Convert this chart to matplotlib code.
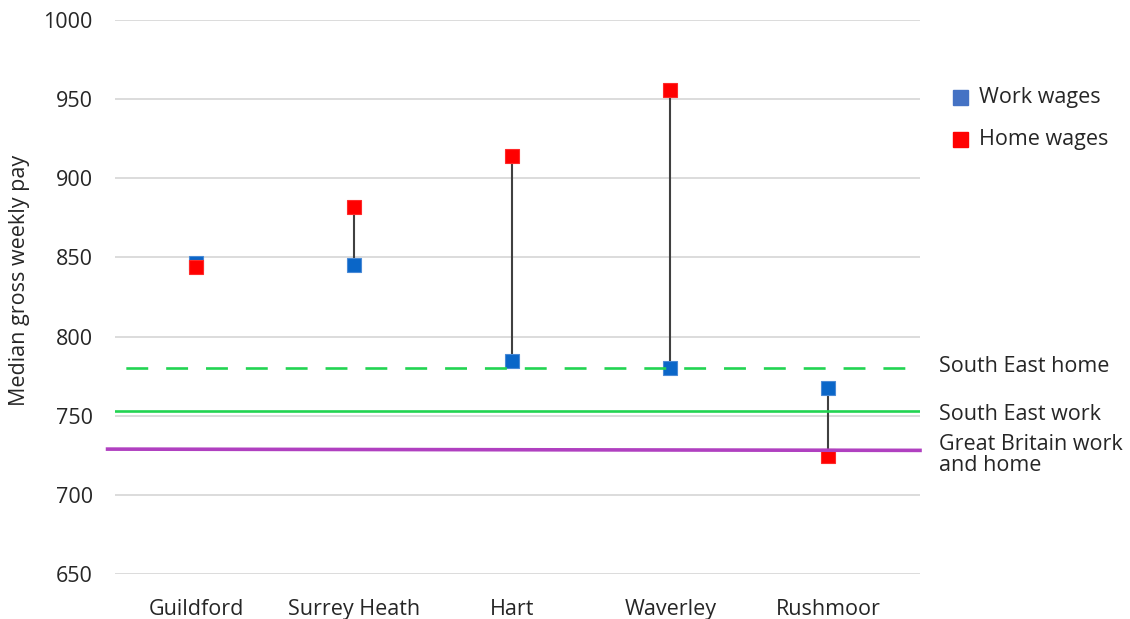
import matplotlib
matplotlib.use('Agg')
import matplotlib.pyplot as plt

# data
areas = ['Guildford', 'Surrey Heath', 'Hart', 'Waverley', 'Rushmoor']
work_wages = [846.5, 845, 784.5, 780, 767.5]
home_wages = [844, 882, 914, 956, 724.5]

se_home = 780
se_work = 753
gb_both = 728.5

yticks = [650, 700, 750, 800, 850, 900, 950, 1000]

plt.rcParams['font.family'] = ['Open Sans', 'DejaVu Sans']
FS = 15.5
TXT = '#262626'

fig = plt.figure(figsize=(11.3, 6.19), dpi=100)
ax = fig.add_axes([115 / 1130, 1 - 574 / 619, 805 / 1130, 554 / 619])

xs = list(range(len(areas)))

# grid
for t in yticks:
    ax.axhline(t, color='#d9d9d9', lw=1.3, zorder=0)

# connectors between work and home
for x, w, h in zip(xs, work_wages, home_wages):
    ax.plot([x, x], [w, h], color='#404040', lw=1.5, zorder=2)

ax.plot(xs, work_wages, ls='none', marker='s', ms=10.5, color='#0a66c8',
        mec='#4a8ad6', mew=0.8, zorder=3)
ax.plot(xs, home_wages, ls='none', marker='s', ms=10.5, color='#ff0000',
        mec='#ff2a2a', mew=0.8, zorder=4)

# reference lines
ax.axhline(se_home, color='#22d452', lw=1.9, ls=(11.0, (8.3, 6.8)), zorder=5)
ax.axhline(se_work, color='#22d452', lw=1.9, zorder=5)
ax.plot([-0.56, 4.58], [gb_both + 0.4, gb_both - 0.4], color='#b040c0', lw=2.6,
        zorder=5, clip_on=False)

ax.set_xlim(-0.513, 4.58)
ax.set_ylim(650, 1000)
ax.set_yticks(yticks)
ax.set_xticks(xs)
ax.set_xticklabels(areas)
ax.tick_params(axis='both', length=0, labelsize=FS, colors=TXT)
ax.tick_params(axis='y', pad=16)
ax.tick_params(axis='x', pad=18)
for s in ax.spines.values():
    s.set_visible(False)

fig.text(20 / 1130, 1 - 280 / 619, 'Median gross weekly pay', rotation=90,
         ha='center', va='center', fontsize=FS, color=TXT)

# right side labels
fig.text(939 / 1130, 1 - 367 / 619, 'South East home', fontsize=FS,
         va='center', color=TXT)
fig.text(939 / 1130, 1 - 415 / 619, 'South East work', fontsize=FS,
         va='center', color=TXT)
fig.text(939 / 1130, 1 - 455 / 619, 'Great Britain work\nand home', fontsize=FS,
         va='center', color=TXT, linespacing=0.95)

# legend
fig.patches.append(plt.Rectangle((953 / 1130, 1 - 105 / 619), 15 / 1130, 15 / 619,
                                 transform=fig.transFigure, color='#4472c4'))
fig.patches.append(plt.Rectangle((953 / 1130, 1 - 147 / 619), 15 / 1130, 15 / 619,
                                 transform=fig.transFigure, color='#ff0000'))
fig.text(979 / 1130, 1 - 97 / 619, 'Work wages', fontsize=FS, va='center',
         color=TXT)
fig.text(979 / 1130, 1 - 139 / 619, 'Home wages', fontsize=FS, va='center',
         color=TXT)

fig.savefig('out.png', dpi=100)
